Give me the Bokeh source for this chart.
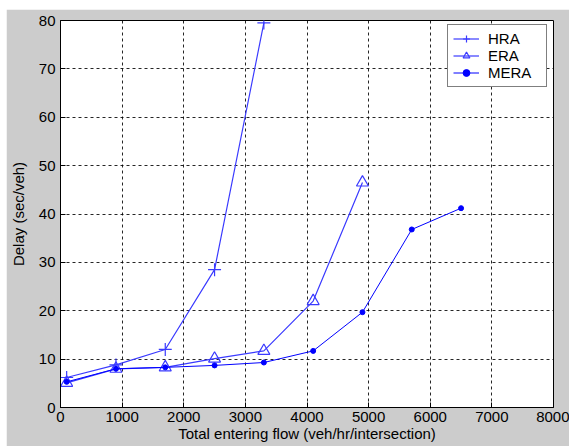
from bokeh.plotting import figure
from bokeh.models import Range1d, FixedTicker, Legend, LegendItem, Spacer
from bokeh.layouts import column, row
from bokeh.embed import file_html
from bokeh.resources import INLINE

# data
flow = [100, 900, 1700, 2500, 3300, 4100, 4900, 5700, 6500]
hra_delay = [6.2, 8.8, 12.0, 28.5, 79.5]
era_delay = [5.1, 8.0, 8.3, 10.1, 11.7, 22.0, 46.5]
mera_delay = [5.3, 8.0, 8.3, 8.7, 9.3, 11.7, 19.7, 36.8, 41.2]
x_ticks = [0, 1000, 2000, 3000, 4000, 5000, 6000, 7000, 8000]
y_ticks = [0, 10, 20, 30, 40, 50, 60, 70, 80]
series_names = ["HRA", "ERA", "MERA"]

GRAY = "#cccccc"
FONT = "Liberation Sans"
FS = "15px"

p = figure(width=563, height=437, output_backend="svg", toolbar_location=None,
           x_range=Range1d(0, 8000), y_range=Range1d(0, 80),
           min_border_left=54, min_border_right=16, min_border_top=11,
           min_border_bottom=39)
p.border_fill_color = GRAY
p.background_fill_color = "#ffffff"
p.outline_line_color = "black"
p.outline_line_width = 1

for ax in (p.xaxis[0], p.yaxis[0]):
    ax.major_tick_in = 5
    ax.major_tick_out = 0
    ax.minor_tick_line_color = None
    ax.axis_line_color = "black"
    ax.major_tick_line_color = "black"
    ax.major_label_text_font = FONT
    ax.major_label_text_font_size = FS
    ax.major_label_text_color = "black"
    ax.axis_label_text_font = FONT
    ax.axis_label_text_font_size = FS
    ax.axis_label_text_font_style = "normal"
    ax.axis_label_text_color = "black"

p.xaxis.ticker = FixedTicker(ticks=x_ticks)
p.yaxis.ticker = FixedTicker(ticks=y_ticks)
p.xaxis.axis_label = "Total entering flow (veh/hr/intersection)"
p.yaxis.axis_label = "Delay (sec/veh)"
p.xaxis.major_label_standoff = 4
p.xaxis.axis_label_standoff = 0
p.yaxis.major_label_standoff = 5
p.yaxis.axis_label_standoff = 9

for g in (p.xgrid[0], p.ygrid[0]):
    g.grid_line_color = "black"
    g.grid_line_dash = "3 3"
    g.grid_line_width = 1
    g.grid_line_alpha = 0.85

blue_light = "#3a3aff"
blue = "#0000ff"

l1 = p.line(flow[:len(hra_delay)], hra_delay, line_color=blue_light, line_width=1.2)
m1 = p.scatter(flow[:len(hra_delay)], hra_delay, marker="cross", size=13,
               line_color=blue_light, line_width=1.2)
l2 = p.line(flow[:len(era_delay)], era_delay, line_color=blue_light, line_width=1.2)
m2 = p.scatter(flow[:len(era_delay)], era_delay, marker="triangle", size=12,
               line_color=blue_light, fill_color=None, line_width=1.2)
l3 = p.line(flow, mera_delay, line_color=blue, line_width=1)
m3 = p.scatter(flow, mera_delay, marker="circle", size=5,
               line_color=blue, fill_color=blue)

legend = Legend(items=[
    LegendItem(label=series_names[0], renderers=[l1, m1]),
    LegendItem(label=series_names[1], renderers=[l2, m2]),
    LegendItem(label=series_names[2], renderers=[l3, m3]),
], location=(387, 320))
legend.label_text_font = FONT
legend.label_text_font_size = FS
legend.label_text_color = "black"
legend.border_line_color = "black"
legend.border_line_width = 1
legend.background_fill_color = "white"
legend.background_fill_alpha = 1
legend.glyph_width = 26
legend.glyph_height = 17
legend.label_height = 17
legend.label_width = 53
legend.spacing = 0
legend.padding = 5
legend.margin = 0
legend.label_standoff = 9
p.add_layout(legend, "center")

layout = column(Spacer(height=9), row(Spacer(width=6), p, spacing=0), spacing=0)

open("out.html", "w").write(file_html(layout, INLINE))
